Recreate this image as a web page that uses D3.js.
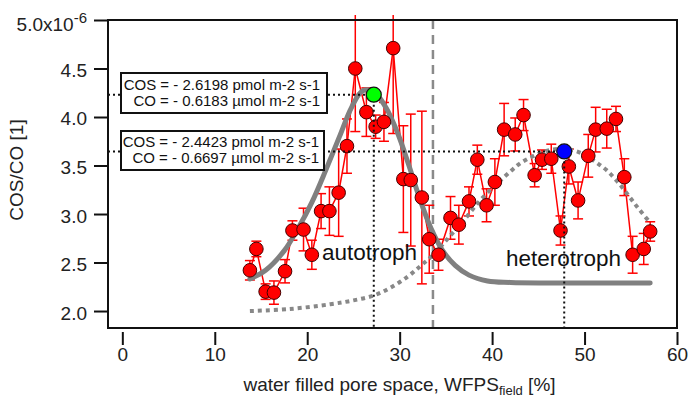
<!DOCTYPE html>
<html>
<head>
<meta charset="utf-8">
<script src="https://cdn.jsdelivr.net/npm/d3@7"></script>
<style>
  html, body { margin: 0; padding: 0; background: #fff; }
  svg { display: block; font-family: "Liberation Sans", Arial, sans-serif; }
</style>
</head>
<body>
<svg id="chart" width="691" height="403"></svg>
<script>
// Measured COS/CO ratio (x10^-6) against field water filled pore space
const wfps = [13.8, 14.5, 15.5, 16.4, 17.6, 18.4, 19.6, 20.5, 21.5, 22.4, 23.4, 24.3, 25.2, 26.4, 27.4,
              28.3, 29.3, 30.4, 31.2, 32.4, 33.2, 34.2, 35.5, 36.4, 37.5, 38.4, 39.4, 40.3, 41.3, 42.5,
              43.4, 44.6, 45.4, 46.4, 47.4, 48.3, 49.3, 50.4, 51.2, 52.4, 53.4, 54.3, 55.2, 56.4, 57.1];
const cosCo = [2.42, 2.64, 2.20, 2.19, 2.41, 2.83, 2.84, 2.58, 3.03, 3.03, 3.22, 3.70, 4.50, 4.05, 3.90,
               3.95, 4.71, 3.36, 3.35, 3.17, 2.74, 2.58, 2.96, 2.89, 3.13, 3.56, 3.09, 3.33, 3.87, 3.82,
               4.02, 3.40, 3.56, 3.57, 2.83, 3.49, 3.14, 3.60, 3.87, 3.88, 3.98, 3.38, 2.58, 2.64, 2.82];
const cosCoErr = [0.10, 0.08, 0.08, 0.12, 0.12, 0.10, 0.22, 0.15, 0.18, 0.25, 0.45, 0.28, 0.65, 0.25, 0.12,
                  0.20, 0.88, 0.55, 0.68, 0.89, 0.35, 0.16, 0.22, 0.20, 0.15, 0.15, 0.17, 0.24, 0.27, 0.17,
                  0.16, 0.12, 0.10, 0.15, 0.15, 0.18, 0.19, 0.22, 0.23, 0.20, 0.13, 0.19, 0.19, 0.16, 0.10];

// Autotrophic fit (solid grey)
const autoFitX = [13.8, 15.5, 17.5, 19.0, 20.5, 22.0, 23.5, 24.8, 26.0, 27.2, 28.5, 29.8, 31.0, 32.2,
                  33.4, 34.6, 36.0, 37.5, 39.5, 42.0, 57.1];
const autoFitY = [2.33, 2.42, 2.62, 2.85, 3.12, 3.45, 3.80, 4.10, 4.27, 4.26, 4.10, 3.83, 3.50, 3.15,
                  2.85, 2.63, 2.47, 2.37, 2.31, 2.295, 2.29];

// Heterotrophic fit (dotted grey)
const heteroFitX = [13.8, 18.0, 22.5, 25.0, 27.2, 29.0, 30.8, 32.2, 33.3, 34.4, 35.6, 36.9, 38.7, 40.5,
                    42.0, 43.0, 44.3, 45.5, 46.6, 47.7, 49.0, 50.2, 51.3, 52.4, 53.5, 54.6, 55.8, 57.1];
const heteroFitY = [2.00, 2.02, 2.07, 2.11, 2.16, 2.24, 2.35, 2.46, 2.55, 2.66, 2.79, 2.93, 3.14, 3.31,
                    3.44, 3.52, 3.59, 3.64, 3.665, 3.67, 3.65, 3.60, 3.53, 3.45, 3.34, 3.21, 3.06, 2.91];

// Fit maxima and the threshold WFPS
const autoPeak = { x: 27.2, y: 4.23 };
const heteroPeak = { x: 47.8, y: 3.645 };
const thresholdWfps = 33.6;

const xTicks = [0, 10, 20, 30, 40, 50, 60];
const yTicks = [2.0, 2.5, 3.0, 3.5, 4.0, 4.5, 5.0];

const autoFluxLines = ["COS = - 2.6198 pmol m-2 s-1", "CO = - 0.6183 \u00b5mol m-2 s-1"];
const heteroFluxLines = ["COS = - 2.4423 pmol m-2 s-1", "CO = - 0.6697 \u00b5mol m-2 s-1"];

const svg = d3.select("#chart");
const L = 108, R = 677, T = 20, B = 328;

const x = d3.scaleLinear().domain([-1.55, 60]).range([L, R]);
const y = d3.scaleLinear().domain([1.825, 5.0]).range([B, T]);

const pts = wfps.map((v, i) => ({ x: v, y: cosCo[i], e: cosCoErr[i] }));

// clip for the error bars that run off the top
svg.append("defs").append("clipPath").attr("id", "errclip")
  .append("rect").attr("x", L).attr("y", T - 5).attr("width", R - L).attr("height", B - T + 5);

// threshold (dashed grey)
svg.append("line")
  .attr("x1", x(thresholdWfps)).attr("x2", x(thresholdWfps))
  .attr("y1", T).attr("y2", B)
  .attr("stroke", "#8a8a8a").attr("stroke-width", 2.5).attr("stroke-dasharray", "9,6");

// error bars
const eb = svg.append("g").attr("clip-path", "url(#errclip)")
  .attr("stroke", "#f00").attr("stroke-width", 1.5).attr("fill", "none");
pts.forEach(p => {
  const cx = x(p.x), y1 = y(p.y + p.e), y2 = y(p.y - p.e);
  eb.append("line").attr("x1", cx).attr("x2", cx).attr("y1", y1).attr("y2", y2);
  eb.append("line").attr("x1", cx - 5).attr("x2", cx + 5).attr("y1", y1).attr("y2", y1);
  eb.append("line").attr("x1", cx - 5).attr("x2", cx + 5).attr("y1", y2).attr("y2", y2);
});

// connecting line
svg.append("path").datum(pts)
  .attr("fill", "none").attr("stroke", "#f00").attr("stroke-width", 1.5)
  .attr("d", d3.line().x(d => x(d.x)).y(d => y(d.y)));

// fits
const fitLine = d3.line().x(d => x(d[0])).y(d => y(d[1])).curve(d3.curveCatmullRom);
svg.append("path").datum(heteroFitX.map((v, i) => [v, heteroFitY[i]]))
  .attr("fill", "none").attr("stroke", "#888").attr("stroke-width", 4)
  .attr("stroke-dasharray", "4,4").attr("d", fitLine);
svg.append("path").datum(autoFitX.map((v, i) => [v, autoFitY[i]]))
  .attr("fill", "none").attr("stroke", "#808080").attr("stroke-width", 5)
  .attr("stroke-linecap", "round").attr("d", fitLine);

// markers
svg.append("g").selectAll("circle").data(pts).join("circle")
  .attr("cx", d => x(d.x)).attr("cy", d => y(d.y)).attr("r", 6.8)
  .attr("fill", "#f00").attr("stroke", "#400").attr("stroke-width", 1);

// guide lines to the fit maxima
const guide = svg.append("g").attr("stroke", "#111").attr("stroke-width", 2).attr("stroke-dasharray", "2,3");
[autoPeak, heteroPeak].forEach(p => {
  guide.append("line").attr("x1", L).attr("x2", x(p.x)).attr("y1", y(p.y)).attr("y2", y(p.y));
  guide.append("line").attr("x1", x(p.x)).attr("x2", x(p.x)).attr("y1", y(p.y)).attr("y2", B);
});

svg.append("circle").attr("cx", x(autoPeak.x)).attr("cy", y(autoPeak.y)).attr("r", 7.5)
  .attr("fill", "#00ff00").attr("stroke", "#111").attr("stroke-width", 1.2);
svg.append("circle").attr("cx", x(heteroPeak.x)).attr("cy", y(heteroPeak.y)).attr("r", 7.5)
  .attr("fill", "#0000ff").attr("stroke", "#111").attr("stroke-width", 1.2);

// flux annotation boxes
function fluxBox(lines, bx, by, bw, bh, tx, ty1, ty2) {
  const g = svg.append("g");
  g.append("rect").attr("x", bx).attr("y", by).attr("width", bw).attr("height", bh)
    .attr("fill", "#fff").attr("stroke", "#111").attr("stroke-width", 2);
  g.append("text").attr("x", tx).attr("y", ty1).attr("text-anchor", "end")
    .attr("font-size", 15).attr("fill", "#111").text(lines[0]);
  g.append("text").attr("x", tx).attr("y", ty2).attr("text-anchor", "end")
    .attr("font-size", 15).attr("fill", "#111").text(lines[1]);
}
fluxBox(autoFluxLines, 121, 73, 206, 40, 320, 90, 106);
fluxBox(heteroFluxLines, 121, 131, 203, 39, 319, 147, 163);

// in-plot labels
svg.append("text").attr("x", x(21.6)).attr("y", y(2.53)).attr("font-size", 22.5).attr("fill", "#111").text("autotroph");
svg.append("text").attr("x", x(41.5)).attr("y", y(2.465)).attr("font-size", 22.5).attr("fill", "#111").text("heterotroph");

// frame
svg.append("rect").attr("x", L).attr("y", T).attr("width", R - L).attr("height", B - T)
  .attr("fill", "none").attr("stroke", "#111").attr("stroke-width", 2);

// axes
const yAxis = svg.append("g").attr("transform", `translate(${L},0)`)
  .call(d3.axisLeft(y).tickValues(yTicks).tickSize(14).tickPadding(7).tickFormat(d3.format(".1f")));
const xAxis = svg.append("g").attr("transform", `translate(0,332)`)
  .call(d3.axisBottom(x).tickValues(xTicks).tickSize(13).tickPadding(3).tickFormat(d3.format("d")));
[yAxis, xAxis].forEach(a => {
  a.select(".domain").remove();
  a.selectAll("line").attr("stroke", "#111").attr("stroke-width", 2);
  a.selectAll("text").attr("font-size", 19).attr("fill", "#222")
    .attr("font-family", "'Liberation Sans', Arial, sans-serif");
});
yAxis.selectAll("text").attr("dy", "0.42em");
yAxis.selectAll(".tick").filter(d => d === 5.0).select("text")
  .attr("dy", null).attr("y", 10).text(null)
  .call(t => {
    t.append("tspan").text("5.0x10");
    t.append("tspan").attr("dy", -8).attr("font-size", 15).text("-6");
  });

// axis titles
const xt = svg.append("text").attr("x", (L + R) / 2 + 7).attr("y", 391).attr("text-anchor", "middle")
  .attr("font-size", 19).attr("fill", "#222");
xt.append("tspan").text("water filled pore space, WFPS");
xt.append("tspan").attr("font-size", 13).attr("dy", 4).text("field");
xt.append("tspan").attr("dy", -4).text(" [%]");

svg.append("text").attr("transform", "translate(23,170) rotate(-90)").attr("text-anchor", "middle")
  .attr("font-size", 19).attr("fill", "#222").text("COS/CO [1]");
</script>
</body>
</html>
